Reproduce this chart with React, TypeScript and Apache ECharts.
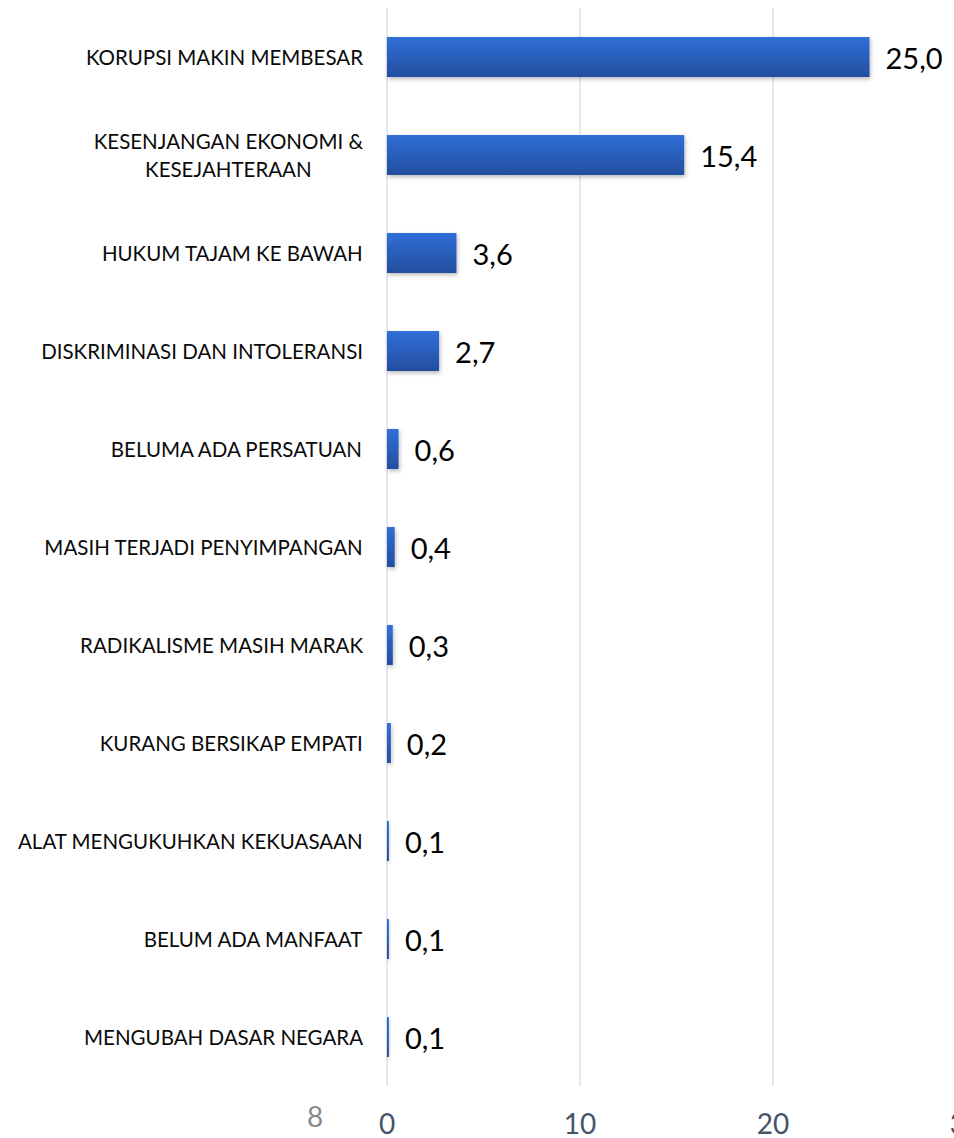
import React, { useEffect, useRef } from "react";
import * as echarts from "echarts";

const categories = [
  "KORUPSI MAKIN MEMBESAR",
  "KESENJANGAN EKONOMI &\nKESEJAHTERAAN",
  "HUKUM TAJAM KE BAWAH",
  "DISKRIMINASI DAN INTOLERANSI",
  "BELUMA ADA PERSATUAN",
  "MASIH TERJADI PENYIMPANGAN",
  "RADIKALISME MASIH MARAK",
  "KURANG BERSIKAP EMPATI",
  "ALAT MENGUKUHKAN KEKUASAAN",
  "BELUM ADA MANFAAT",
  "MENGUBAH DASAR NEGARA",
];
const values = [25.0, 15.4, 3.6, 2.7, 0.6, 0.4, 0.3, 0.2, 0.1, 0.1, 0.1];
const axisMin = 0;
const axisMax = 30;
const axisInterval = 10;
const pageNumber = "8";

export default function App() {
  const ref = useRef<HTMLDivElement>(null);
  useEffect(() => {
    if (!ref.current) return;
    const chart = echarts.init(ref.current, undefined, { renderer: "svg" });
    chart.setOption({
      animation: false,
      grid: { left: 387, right: 34, top: 8, bottom: 52, containLabel: false },
      graphic: [
        {
          type: "text",
          left: 307,
          top: 1102,
          style: {
            text: pageNumber,
            fontSize: 28,
            fontFamily: "Lato",
            fill: "#8a8a8a",
          },
        },
      ],
      xAxis: {
        type: "value",
        min: axisMin,
        max: axisMax,
        interval: axisInterval,
        axisLine: { show: false },
        axisTick: { show: false },
        splitLine: { show: true, lineStyle: { color: "#dde2ea", width: 1.5 } },
        axisLabel: {
          fontSize: 28,
          fontFamily: "Lato",
          color: "#44546A",
          margin: 23,
          lineHeight: 28,
        },
      },
      yAxis: {
        type: "category",
        data: categories,
        inverse: true,
        axisLine: { show: false },
        axisTick: { show: false },
        splitLine: { show: false },
        axisLabel: {
          margin: 24,
          formatter: (v: string) =>
            v
              .split("\n")
              .map((l) => `{c|${l}}`)
              .join("\n"),
          rich: {
            c: {
              fontSize: 20.5,
              fontFamily: "Lato",
              color: "#0a0a0a",
              align: "center",
              lineHeight: 28,
            },
          },
        },
      },
      series: [
        {
          type: "bar",
          data: values,
          barWidth: 40,
          itemStyle: {
            color: new echarts.graphic.LinearGradient(0, 0, 0, 1, [
              { offset: 0, color: "#306fd8" },
              { offset: 1, color: "#234e9e" },
            ]),
            shadowColor: "rgba(0,0,0,0.28)",
            shadowBlur: 4,
            shadowOffsetX: 1,
            shadowOffsetY: 2,
          },
          label: {
            show: true,
            position: "right",
            distance: 16,
            fontSize: 29,
            fontFamily: "Lato",
            color: "#000",
            formatter: (p: any) => p.value.toFixed(1).replace(".", ","),
          },
        },
      ],
    });
    return () => chart.dispose();
  }, []);
  return (
    <div
      style={{ position: "fixed", left: 0, top: 0, width: 954, height: 1138, overflow: "hidden", background: "#fff" }}
    >
      <div ref={ref} style={{ width: 1000, height: 1138 }} />
    </div>
  );
}
